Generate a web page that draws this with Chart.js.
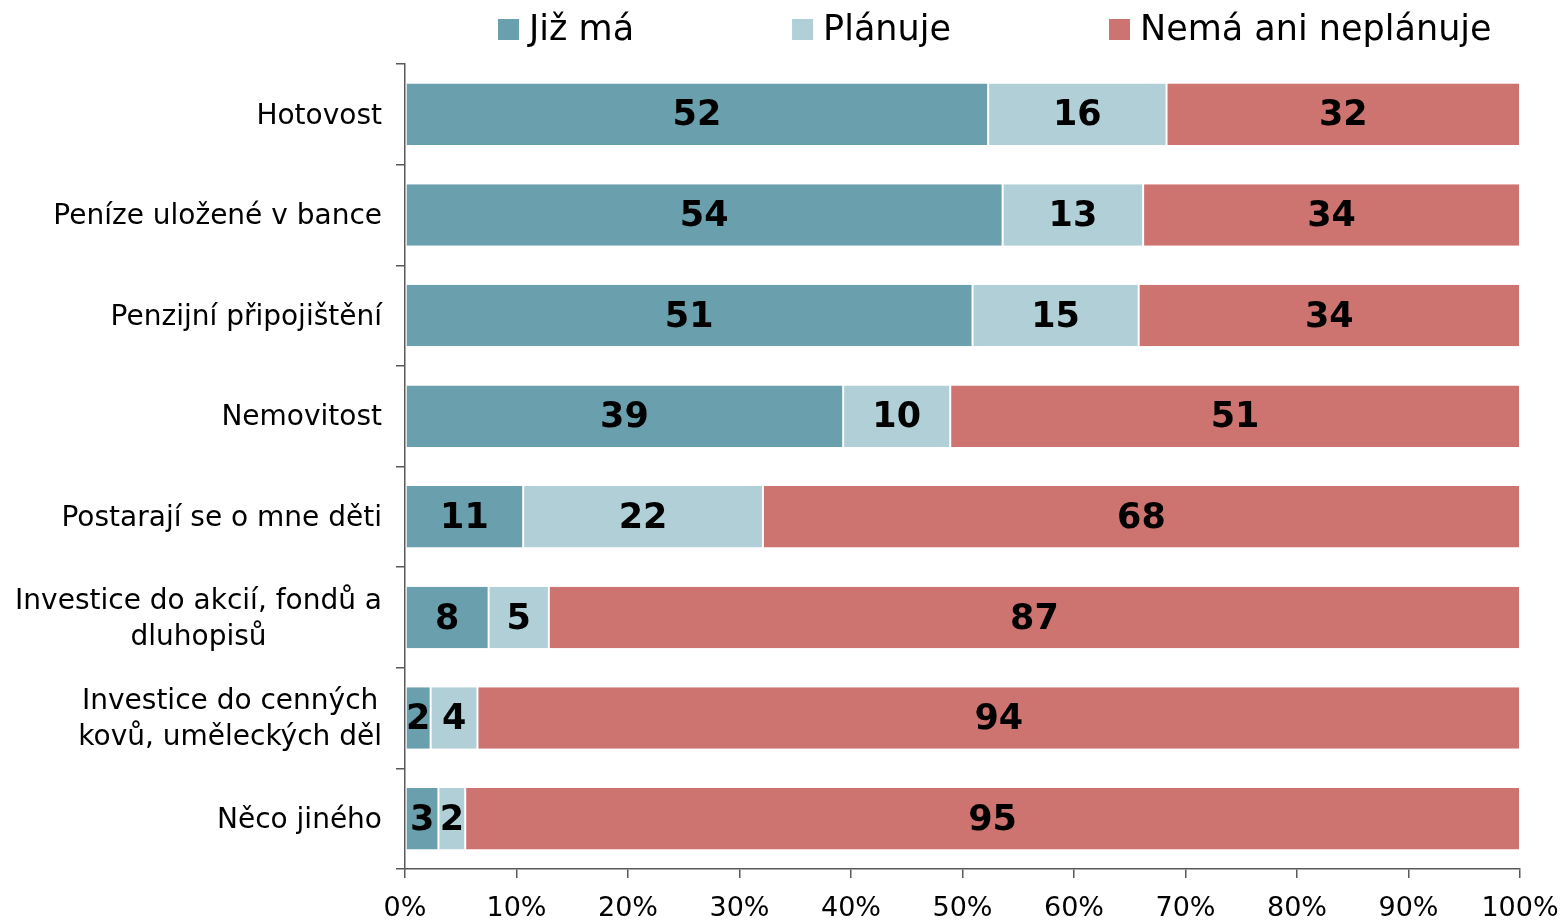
<!DOCTYPE html>
<html>
<head>
<meta charset="utf-8">
<script src="https://cdn.jsdelivr.net/npm/chart.js@4"></script>
<style>
  html, body { margin: 0; padding: 0; background: #fff; }
  #wrap { width: 1563px; height: 920px; }
</style>
</head>
<body>
<div id="wrap"><canvas id="assetChart"></canvas></div>
<script>
// kategorie (víceřádkové popisky jako v originále)
var categories = [
    'Hotovost',
    'Peníze uložené v bance',
    'Penzijní připojištění',
    'Nemovitost',
    'Postarají se o mne děti',
    ['Investice do akcií, fondů a', 'dluhopisů'],
    ['Investice do cenných', 'kovů, uměleckých děl'],
    'Něco jiného'
];
var seriesNames = ['Již má', 'Plánuje', 'Nemá ani neplánuje'];
// podíly v % (popisky = zaokrouhlené hodnoty)
var jizMa   = [52.3, 53.6, 50.9, 39.3, 10.6, 7.5, 2.3, 3.0];
var planuje = [16.0, 12.6, 14.9, 9.6, 21.5, 5.4, 4.2, 2.4];
var nema    = [31.7, 33.8, 34.2, 51.1, 67.9, 87.1, 93.5, 94.6];
var xTicks  = [0, 10, 20, 30, 40, 50, 60, 70, 80, 90, 100];

var FONT = '"DejaVu Sans", Verdana, sans-serif';
var axisColor = '#595959';

// hodnoty uprostřed segmentů
var barLabels = {
    id: 'barLabels',
    afterDatasetsDraw: function (chart) {
        var ctx = chart.ctx;
        ctx.save();
        ctx.font = 'bold 35px ' + FONT;
        ctx.fillStyle = '#000';
        ctx.textAlign = 'center';
        ctx.textBaseline = 'middle';
        chart.data.datasets.forEach(function (ds, i) {
            chart.getDatasetMeta(i).data.forEach(function (bar, j) {
                var p = bar.getCenterPoint();
                ctx.fillText(String(Math.round(ds.data[j])), p.x, p.y + 2);
            });
        });
        ctx.restore();
    }
};

// popisky kategorií: blok zarovnaný doprava, řádky na střed
var catLabels = {
    id: 'catLabels',
    afterDraw: function (chart) {
        var ctx = chart.ctx;
        var yScale = chart.scales.y;
        var right = yScale.right - 9 - 14;
        ctx.save();
        ctx.font = '28px ' + FONT;
        ctx.fillStyle = '#000';
        ctx.textAlign = 'center';
        ctx.textBaseline = 'middle';
        chart.data.labels.forEach(function (lab, i) {
            var lines = Array.isArray(lab) ? lab : [lab];
            var w = Math.max.apply(null, lines.map(function (s) { return ctx.measureText(s).width; }));
            var cx = right - w / 2;
            var cy = yScale.getPixelForTick(i);
            lines.forEach(function (s, k) {
                ctx.fillText(s, cx, cy + 2 + (k - (lines.length - 1) / 2) * 36);
            });
        });
        ctx.restore();
    }
};

// legenda nahoře, rozestupy jako v originále
var topLegend = {
    id: 'topLegend',
    afterDraw: function (chart) {
        var ctx = chart.ctx;
        ctx.save();
        ctx.font = '35px ' + FONT;
        ctx.textBaseline = 'middle';
        ctx.textAlign = 'left';
        var x = 498;
        chart.data.datasets.forEach(function (ds) {
            ctx.fillStyle = ds.backgroundColor;
            ctx.fillRect(x, 19, 21, 21);
            ctx.fillStyle = '#000';
            ctx.fillText(ds.label, x + 31, 31);
            x += 31 + ctx.measureText(ds.label).width + 158;
        });
        ctx.restore();
    }
};

function makeSet(name, values, color) {
    return {
        label: name,
        data: values,
        backgroundColor: color,
        borderColor: '#fff',
        borderWidth: { left: 1, right: 1, top: 0, bottom: 0 },
        borderSkipped: false,
        categoryPercentage: 1.0,
        barPercentage: 0.61
    };
}

var ctx = document.getElementById('assetChart').getContext('2d');
var chart = new Chart(ctx, {
    type: 'bar',
    data: {
        labels: categories,
        datasets: [
            makeSet(seriesNames[0], jizMa, '#6A9FAD'),
            makeSet(seriesNames[1], planuje, '#B0CFD7'),
            makeSet(seriesNames[2], nema, '#CD7370')
        ]
    },
    options: {
        indexAxis: 'y', // vodorovné pruhy
        responsive: true,
        maintainAspectRatio: false,
        animation: false,
        layout: { padding: { left: 0, right: 43, top: 64, bottom: 0 } },
        plugins: {
            legend: { display: false },
            tooltip: { enabled: false }
        },
        scales: {
            x: {
                stacked: true,
                min: 0,
                max: 100,
                afterBuildTicks: function (scale) {
                    scale.ticks = xTicks.map(function (v) { return { value: v }; });
                },
                afterFit: function (scale) {
                    scale.height = 51;
                    scale.paddingLeft = 0;
                    scale.paddingRight = 0;
                },
                ticks: {
                    font: { family: FONT, size: 27 },
                    color: '#000',
                    padding: 15,
                    maxRotation: 0,
                    callback: function (v) { return v + '%'; }
                },
                grid: {
                    drawOnChartArea: false,
                    tickLength: 9,
                    color: axisColor,
                    lineWidth: 1.5
                },
                border: { color: axisColor, width: 1.5 }
            },
            y: {
                stacked: true,
                afterFit: function (scale) {
                    scale.width = 405;
                    scale.paddingTop = 0;
                    scale.paddingBottom = 0;
                },
                ticks: {
                    font: { family: FONT, size: 28 },
                    color: 'rgba(0,0,0,0)' // kreslí plugin catLabels
                },
                grid: {
                    offset: true,
                    drawOnChartArea: false,
                    tickLength: 9,
                    color: axisColor,
                    lineWidth: 1.5
                },
                border: { color: axisColor, width: 1.5 }
            }
        }
    },
    plugins: [barLabels, catLabels, topLegend]
});
</script>
</body>
</html>
